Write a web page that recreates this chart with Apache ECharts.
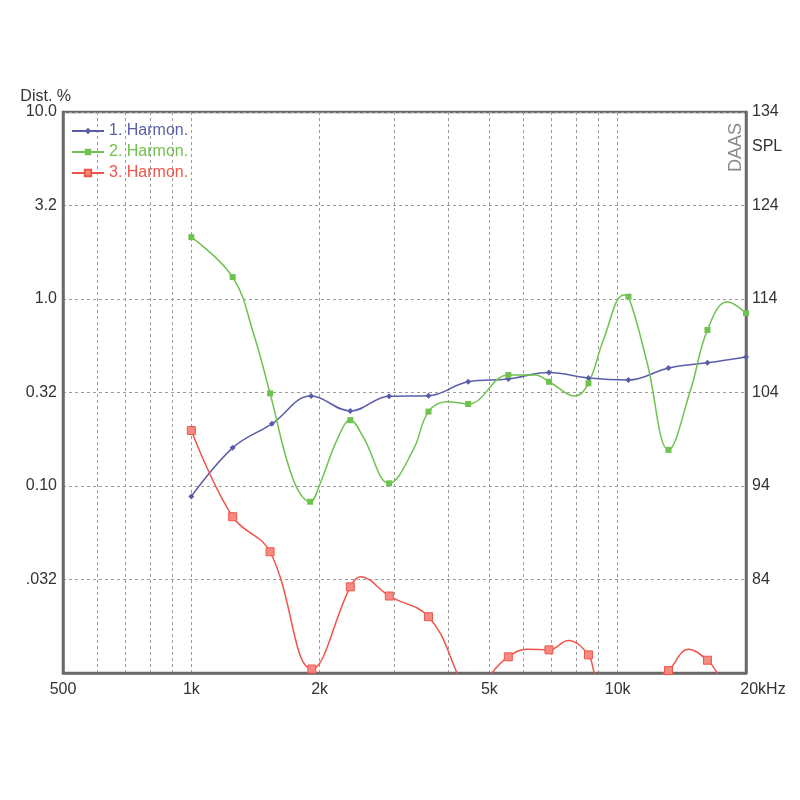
<!DOCTYPE html>
<html>
<head>
<meta charset="utf-8">
<script src="https://cdn.jsdelivr.net/npm/echarts@6/dist/echarts.min.js"></script>
<style>html,body{margin:0;padding:0;background:#fff}#c{width:800px;height:800px}</style>
</head>
<body>
<div id="c"></div>
<script>
// ---- data (frequency in Hz, distortion in %) ----
const h1Freq = [1000, 1250, 1545, 1910, 2360, 2910, 3600, 4460, 5540, 6900, 8540, 10600, 13160, 16240, 20000];
const h1Val  = [0.088, 0.160, 0.215, 0.303, 0.252, 0.302, 0.304, 0.361, 0.373, 0.404, 0.378, 0.369, 0.428, 0.456, 0.49];
const h1Mark = [1,1,1,1,1,1,1,1,1,1,1,1,1,1,1];

const h2Freq = [1000, 1250, 1400, 1530, 1734, 1900, 2006, 2195, 2360, 2530, 2910, 3315, 3600, 3978, 4460, 5540, 6412, 6900, 7960, 8540, 9258, 10336, 10600, 11729, 13160, 14821, 16240, 18072, 20000];
const h2Val  = [2.14, 1.31, 0.65, 0.313, 0.108, 0.0824, 0.1034, 0.176, 0.225, 0.183, 0.1034, 0.156, 0.250, 0.2825, 0.2745, 0.392, 0.392, 0.361, 0.303, 0.354, 0.604, 1.05, 1.029, 0.455, 0.156, 0.326, 0.683, 0.967, 0.839];
const h2Mark = [1, 1, 0, 1, 0, 1, 0, 0, 1, 0, 1, 0, 1, 0, 1, 1, 0, 1, 0, 1, 0, 0, 1, 0, 1, 0, 1, 0, 1];

const h3Freq = [1000, 1250, 1530, 1918, 2360, 2490, 2913, 3600, 4161, 4460, 5073, 5540, 6130, 6900, 7662, 8540, 8822, 10600, 12808, 13160, 14662, 16240, 17110, 20000];
const h3Val  = [0.198, 0.0685, 0.0445, 0.0105, 0.0289, 0.0327, 0.0258, 0.0200, 0.0105, 0.0062, 0.0100, 0.0122, 0.0134, 0.0133, 0.0149, 0.0125, 0.0100, 0.0040, 0.0100, 0.0103, 0.0134, 0.0117, 0.0100, 0.0050];
const h3Mark = [1, 1, 1, 1, 1, 0, 1, 1, 0, 1, 0, 1, 0, 1, 0, 1, 0, 1, 0, 1, 0, 1, 0, 1];

const seriesNames = ['1. Harmon.', '2. Harmon.', '3. Harmon.'];
const xLabelValues = [500, 1000, 2000, 5000, 10000, 20000];
const xLabelTexts  = ['500', '1k', '2k', '5k', '10k', '20kHz'];
const xGridValues  = [600, 700, 800, 900, 1000, 2000, 3000, 4000, 5000, 6000, 7000, 8000, 9000, 10000];
const yLeftTicks   = [0.01, 0.0316, 0.1, 0.316, 1, 3.16, 10];
const yLeftTexts   = ['', '.032', '0.10', '0.32', '1.0', '3.2', '10.0'];
const yRightMin = 74, yRightMax = 134, yRightStep = 10;

const colors = ['#5a5ea8', '#6fc24e', '#f0554b'];

function build(freq, val, mark, sym, size) {
  return freq.map((f, i) => ({
    value: [f, val[i]],
    symbol: mark[i] ? sym : 'none',
    symbolSize: mark[i] ? size : 0
  }));
}

const chart = echarts.init(document.getElementById('c'), null, {renderer: 'canvas'});
const font = '"Liberation Sans", Arial, sans-serif';
const FS = 16;

const option = {
  animation: false,
  backgroundColor: '#fff',
  grid: {left: 63, right: 54, top: 112, bottom: 127, show: true, borderColor: '#6a6a6a', borderWidth: 2.5, backgroundColor: 'transparent'},
  legend: {
    orient: 'vertical', left: 66, top: 118, itemGap: 5, itemWidth: 32, itemHeight: 8,
    textStyle: {fontFamily: font, fontSize: FS},
    data: seriesNames.map((n, i) => ({name: n, textStyle: {color: colors[i]}}))
  },
  xAxis: {
    type: 'log', logBase: 10, min: 500, max: 20000,
    axisLine: {show: true, lineStyle: {color: '#6a6a6a', width: 2.5}},
    axisTick: {show: false, customValues: xGridValues},
    axisLabel: {
      customValues: xLabelValues, fontFamily: font, fontSize: FS, color: '#333', margin: 9,
      formatter: function (v) {
        const i = xLabelValues.findIndex(x => Math.abs(x - v) / x < 0.01);
        if (i < 0) return '';
        if (i === xLabelValues.length - 1) return '{hz|' + xLabelTexts[i] + '}';
        return xLabelTexts[i];
      },
      rich: {hz: {fontFamily: font, fontSize: FS, color: '#333', padding: [0, 0, 0, 34]}}
    },
    splitLine: {show: true, lineStyle: {color: '#9a9a9a', type: [3, 3], width: 1}}
  },
  yAxis: [{
    type: 'log', logBase: Math.sqrt(10), min: 0.01, max: 10, interval: 1,
    axisLine: {show: true, lineStyle: {color: '#6a6a6a', width: 2.5}},
    axisTick: {show: false},
    axisLabel: {
      fontFamily: font, fontSize: FS, color: '#333', margin: 6,
      formatter: function (v) {
        const i = yLeftTicks.findIndex(x => Math.abs(x - v) / x < 0.02);
        return i < 0 ? '' : yLeftTexts[i];
      }
    },
    splitLine: {show: true, lineStyle: {color: '#9a9a9a', type: [3, 3], width: 1}},
    name: 'Dist. %', nameLocation: 'end', nameGap: 7,
    nameTextStyle: {fontFamily: font, fontSize: FS, color: '#333', align: 'right', padding: [0, -8, 0, 0]}
  }, {
    type: 'value', min: yRightMin, max: yRightMax, interval: yRightStep, position: 'right',
    axisLine: {show: true, lineStyle: {color: '#6a6a6a', width: 2.5}},
    axisTick: {show: false},
    axisLabel: {
      fontFamily: font, fontSize: FS, color: '#333', margin: 6,
      formatter: function (v) { return v === yRightMin ? '' : String(v); }
    },
    splitLine: {show: false}
  }],
  series: [
    {name: seriesNames[0], type: 'line', smooth: 0.4, symbol: 'diamond', symbolSize: 6,
     data: build(h1Freq, h1Val, h1Mark, 'diamond', 6),
     lineStyle: {color: colors[0], width: 1.5}, itemStyle: {color: colors[0]}, clip: true, showAllSymbol: true},
    {name: seriesNames[1], type: 'line', smooth: 0.4, symbol: 'rect', symbolSize: 6,
     data: build(h2Freq, h2Val, h2Mark, 'rect', 6),
     lineStyle: {color: colors[1], width: 1.5}, itemStyle: {color: colors[1]}, clip: true, showAllSymbol: true},
    {name: seriesNames[2], type: 'line', smooth: 0.4, symbol: 'rect', symbolSize: 8,
     data: build(h3Freq, h3Val, h3Mark, 'rect', 8),
     lineStyle: {color: colors[2], width: 1.5}, itemStyle: {color: '#f58a82', borderColor: colors[2], borderWidth: 1}, clip: true, showAllSymbol: true}
  ],
  graphic: [
    {type: 'text', left: 752, top: 139, style: {text: 'SPL', font: FS + 'px ' + font, fill: '#333'}},
    {type: 'text', x: 727, y: 172, rotation: Math.PI / 2, style: {text: 'DAAS', font: '18px ' + font, fill: '#8a8a8a'}}
  ]
};
chart.setOption(option);
</script>
</body>
</html>
